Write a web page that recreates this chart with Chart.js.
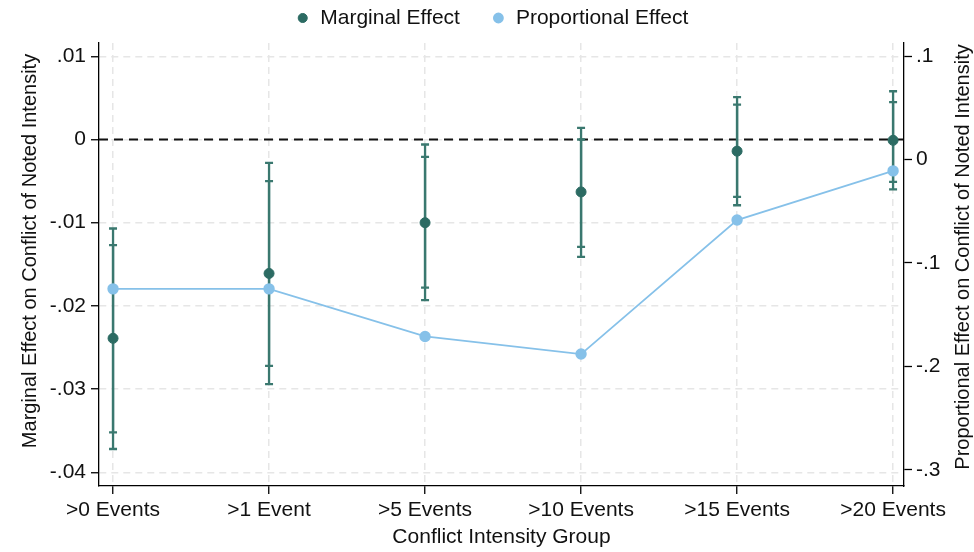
<!DOCTYPE html>
<html>
<head>
<meta charset="utf-8">
<script src="https://cdn.jsdelivr.net/npm/chart.js@4.4.1/dist/chart.umd.min.js"></script>
<style>
  html, body { margin: 0; padding: 0; background: #fff; }
  #wrap { width: 974px; height: 552px; position: relative; }
</style>
</head>
<body>
<div id="wrap"><canvas id="effectChart"></canvas></div>
<script>
// values
const groups = ['>0 Events', '>1 Event', '>5 Events', '>10 Events', '>15 Events', '>20 Events'];
const marginalEffect = [-0.0239, -0.0161, -0.0100, -0.0063, -0.0014, -0.0001];
const ci95Low  = [-0.0372, -0.0294, -0.0193, -0.0141, -0.0079, -0.0060];
const ci95High = [-0.0107, -0.0028, -0.0006, 0.0014, 0.0051, 0.0058];
const ci90Low  = [-0.0352, -0.0272, -0.0178, -0.0129, -0.0069, -0.0051];
const ci90High = [-0.0127, -0.0050, -0.0021, 0.0000, 0.0042, 0.0045];
const proportionalEffect = [-0.125, -0.125, -0.171, -0.188, -0.0585, -0.011];
const leftTicks = [0.01, 0, -0.01, -0.02, -0.03, -0.04];
const rightTicks = [0.1, 0, -0.1, -0.2, -0.3];

const teal = '#2c6b63';
const barColor = '#3a786f';
const lightBlue = '#86c1e9';
const gridColor = '#e6e6e6';

Chart.defaults.font.family = "'Liberation Sans', Arial, Helvetica, sans-serif";
Chart.defaults.font.size = 21;
Chart.defaults.color = '#000';

// format .01 / -.01 / 0 like the original
function fmt(v, d) {
    if (Math.abs(v) < 1e-9) return '0';
    return v.toFixed(d).replace('0.', '.');
}

// legend: fixed height, pulled up and nudged right a little
const legendFix = {
    id: 'legendFix',
    beforeInit(chart) {
        const fit = chart.legend.fit;
        chart.legend.fit = function () {
            fit.call(this);
            this.height = 43;
        };
    },
    afterLayout(chart) {
        const lg = chart.legend;
        lg.top = -24;
        lg.left = 5;
        lg.right = 979;
    }
};

// zero line + confidence intervals (95% outer, 90% inner)
const errorBars = {
    id: 'errorBars',
    beforeDatasetsDraw(chart) {
        const { ctx, chartArea, scales: { x, y } } = chart;
        ctx.save();
        const y0 = y.getPixelForValue(0);
        ctx.strokeStyle = '#111';
        ctx.lineWidth = 2;
        ctx.setLineDash([9, 6]);
        ctx.beginPath();
        ctx.moveTo(chartArea.left, y0);
        ctx.lineTo(chartArea.right, y0);
        ctx.stroke();
        ctx.setLineDash([]);

        ctx.strokeStyle = barColor;
        ctx.lineWidth = 2.3;
        const cap = 4;
        groups.forEach((g, i) => {
            const px = x.getPixelForValue(i);
            [[ci95Low, ci95High], [ci90Low, ci90High]].forEach(([lo, hi]) => {
                const y1 = y.getPixelForValue(lo[i]);
                const y2 = y.getPixelForValue(hi[i]);
                ctx.beginPath();
                ctx.moveTo(px, y1); ctx.lineTo(px, y2);
                ctx.moveTo(px - cap, y1); ctx.lineTo(px + cap, y1);
                ctx.moveTo(px - cap, y2); ctx.lineTo(px + cap, y2);
                ctx.stroke();
            });
        });
        ctx.restore();
    }
};

// y axis titles, both reading bottom to top
const axisTitles = {
    id: 'axisTitles',
    afterDraw(chart) {
        const ctx = chart.ctx;
        ctx.save();
        ctx.fillStyle = '#111';
        ctx.font = "20px 'Liberation Sans', Arial, sans-serif";
        ctx.textAlign = 'center';
        ctx.textBaseline = 'middle';
        [[30, 251, 'Marginal Effect on Conflict of Noted Intensity'],
         [963, 257, 'Proportional Effect on Conflict of Noted Intensity']].forEach(([tx, ty, text]) => {
            ctx.save();
            ctx.translate(tx, ty);
            ctx.rotate(-Math.PI / 2);
            ctx.fillText(text, 0, 0);
            ctx.restore();
        });
        ctx.restore();
    }
};

const ctx = document.getElementById('effectChart').getContext('2d');

new Chart(ctx, {
    type: 'line',
    data: {
        datasets: [
            {
                label: 'Marginal Effect',
                data: marginalEffect.map((v, i) => ({ x: i, y: v })),
                yAxisID: 'y',
                showLine: false,
                pointRadius: 5,
                pointHoverRadius: 5,
                backgroundColor: teal,
                borderColor: teal,
                order: 1
            },
            {
                label: 'Proportional Effect',
                data: proportionalEffect.map((v, i) => ({ x: i, y: v })),
                yAxisID: 'y2',
                borderColor: lightBlue,
                backgroundColor: lightBlue,
                borderWidth: 1.8,
                pointRadius: 4.8,
                pointHoverRadius: 4.8,
                tension: 0,
                order: 0
            }
        ]
    },
    options: {
        responsive: true,
        maintainAspectRatio: false,
        animation: false,
        layout: { padding: 0 },
        plugins: {
            legend: {
                position: 'top',
                labels: {
                    usePointStyle: true,
                    boxWidth: 14,
                    boxHeight: 6.4,
                    padding: 31.5,
                    color: '#111',
                    font: { size: 21 },
                    sort: (a, b) => a.datasetIndex - b.datasetIndex
                }
            },
            tooltip: { enabled: false }
        },
        scales: {
            x: {
                type: 'linear',
                position: 'bottom',
                min: -0.09,
                max: 5.07,
                afterBuildTicks: s => { s.ticks = groups.map((g, i) => ({ value: i })); },
                afterFit: s => { s.height = 66; },
                grid: {
                    color: gridColor,
                    lineWidth: 1.5,
                    tickColor: '#000',
                    tickLength: 8,
                    tickWidth: 1.3
                },
                border: { color: '#000', width: 1.3, dash: [7, 5] },
                ticks: {
                    autoSkip: false,
                    maxRotation: 0,
                    padding: 4,
                    color: '#111',
                    callback: v => groups[v]
                },
                title: {
                    display: true,
                    text: 'Conflict Intensity Group',
                    color: '#111',
                    font: { size: 21 },
                    padding: { top: 0, bottom: 2 }
                }
            },
            y: {
                type: 'linear',
                position: 'left',
                min: -0.04165,
                max: 0.0116,
                afterBuildTicks: s => { s.ticks = leftTicks.map(v => ({ value: v })); },
                afterFit: s => { s.width = 99; },
                grid: {
                    color: gridColor,
                    lineWidth: 1.5,
                    tickColor: '#000',
                    tickLength: 8,
                    tickWidth: 1.3
                },
                border: { color: '#000', width: 1.3, dash: [7, 5] },
                ticks: { padding: 5, color: '#111', callback: v => fmt(v, 2) }
            },
            y2: {
                type: 'linear',
                position: 'right',
                min: -0.3155,
                max: 0.1126,
                afterBuildTicks: s => { s.ticks = rightTicks.map(v => ({ value: v })); },
                afterFit: s => { s.width = 70; },
                grid: {
                    drawOnChartArea: false,
                    tickColor: '#000',
                    tickLength: 8,
                    tickWidth: 1.3
                },
                border: { color: '#000', width: 1.3 },
                ticks: { padding: 4, color: '#111', callback: v => fmt(v, 1) }
            }
        }
    },
    plugins: [legendFix, errorBars, axisTitles]
});
</script>
</body>
</html>
